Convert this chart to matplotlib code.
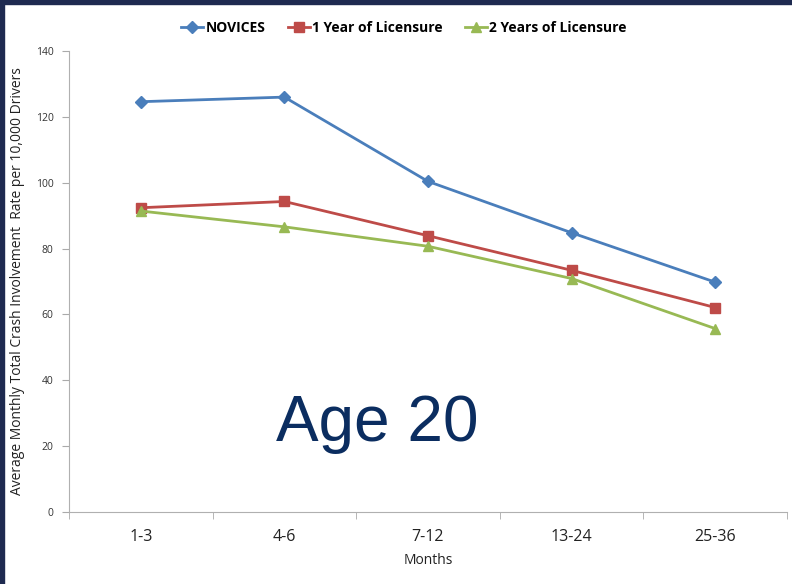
import matplotlib.pyplot as plt
from matplotlib.patches import Rectangle
from matplotlib import font_manager

months = ["1-3", "4-6", "7-12", "13-24", "25-36"]
novices = [124.6, 126.0, 100.4, 84.8, 69.8]
one_year = [92.4, 94.3, 83.9, 73.4, 62.1]
two_years = [91.4, 86.6, 80.7, 70.9, 55.7]
yticks = [0, 20, 40, 60, 80, 100, 120, 140]

names = {f.name for f in font_manager.fontManager.ttflist}
label_font = "Liberation Sans Narrow" if "Liberation Sans Narrow" in names else "Open Sans"

fig = plt.figure(figsize=(7.92, 5.84), dpi=100)
ax = fig.add_axes([69 / 792, 72 / 584, 718 / 792, 461 / 584])

x = list(range(len(months)))
ax.plot(x, novices, color="#4a7ebb", marker="D", markersize=6, lw=2, label="NOVICES")
ax.plot(x, one_year, color="#be4b48", marker="s", markersize=7, lw=2, label="1 Year of Licensure")
ax.plot(x, two_years, color="#98b954", marker="^", markersize=7, lw=2, label="2 Years of Licensure")

ax.set_xlim(-0.5, len(months) - 0.5)
ax.set_ylim(0, 140)
ax.set_yticks(yticks)
ax.set_yticklabels([str(v) for v in yticks], fontsize=7.5, family=label_font, color="#333333")
ax.set_xticks(x)
ax.set_xticklabels(months, fontsize=11.5, family=label_font, color="#222222")
ax.set_xticks([i - 0.5 for i in range(len(months) + 1)], minor=True)
ax.tick_params(axis="x", which="major", length=0, pad=12)
ax.tick_params(axis="x", which="minor", length=5, color="#aaaaaa")
ax.tick_params(axis="y", length=5, color="#aaaaaa", pad=6)

for s in ["top", "right"]:
    ax.spines[s].set_visible(False)
for s in ["left", "bottom"]:
    ax.spines[s].set_color("#b0b0b0")

ax.set_xlabel("Months", fontsize=10, family=label_font, color="#222222", labelpad=6)
ax.set_ylabel("Average Monthly Total Crash Involvement  Rate per 10,000 Drivers",
              fontsize=10, family=label_font, color="#222222", labelpad=8)

ax.text(0.43, 0.19, "Age 20", transform=ax.transAxes, fontsize=46,
        family="Liberation Sans", color="#0b2d60", ha="center", va="center")

fig.legend(loc="upper center", bbox_to_anchor=(0.51, 0.985), ncol=3, frameon=False,
           prop={"family": label_font, "size": 10, "weight": "bold"},
           handlelength=1.6, columnspacing=1.6, handletextpad=0.15)

# dark slide frame
fig.patches.append(Rectangle((0, 1 - 4 / 584), 1, 4 / 584, transform=fig.transFigure,
                             color="#1e2a50", zorder=10))
fig.patches.append(Rectangle((0, 0), 4 / 792, 1, transform=fig.transFigure,
                             color="#1e2a50", zorder=10))

fig.savefig("out.png", dpi=100)
